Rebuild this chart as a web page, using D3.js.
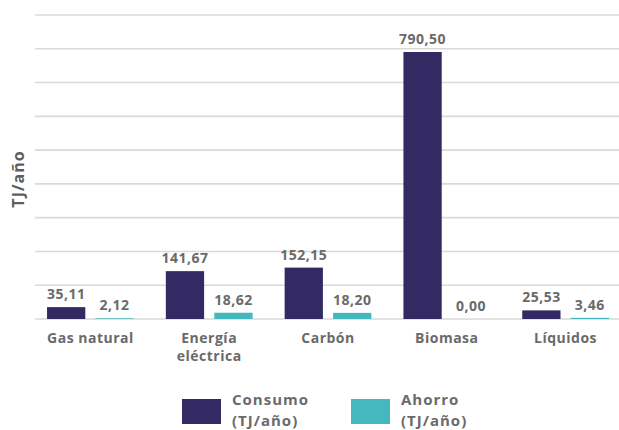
<!DOCTYPE html>
<html>
<head>
<meta charset="utf-8">
<script src="https://cdn.jsdelivr.net/npm/d3@7/dist/d3.min.js"></script>
<style>
  html, body { margin: 0; padding: 0; background: #ffffff; }
  svg { display: block; font-family: "Open Sans", "DejaVu Sans", sans-serif; }
</style>
</head>
<body>
<svg id="chart" width="619" height="430"></svg>
<script>
// Energy use and savings by source (TJ/año)
const categories = ["Gas natural", "Energía eléctrica", "Carbón", "Biomasa", "Líquidos"];
const categoryLines = [["Gas natural"], ["Energía", "eléctrica"], ["Carbón"], ["Biomasa"], ["Líquidos"]];
const seriesNames = ["Consumo (TJ/año)", "Ahorro (TJ/año)"];
const consumo = [35.11, 141.67, 152.15, 790.50, 25.53];
const ahorro = [2.12, 18.62, 18.20, 0.00, 3.46];
const yTicks = [0, 100, 200, 300, 400, 500, 600, 700, 800, 900];
const colors = ["#332a63", "#44b8bc"];

const svg = d3.select("#chart");
const textColor = "#6a6a6a";
const fmt = v => d3.format(".2f")(v).replace(".", ",");

const x0 = d3.scaleBand().domain(categories).range([31, 625])
  .paddingInner(0.27).paddingOuter(0.135);
const x1 = d3.scaleBand().domain(seriesNames).range([0, x0.bandwidth()])
  .paddingInner(0.21).paddingOuter(0);
const y = d3.scaleLinear().domain([0, 900]).range([319, 15]);

// horizontal gridlines
svg.append("g").selectAll("line").data(yTicks).join("line")
  .attr("x1", 35).attr("x2", 619)
  .attr("y1", d => y(d)).attr("y2", d => y(d))
  .attr("stroke", "#d9d9d9").attr("stroke-width", 1.6);

const rows = categories.map((c, i) => ({
  cat: c,
  values: [
    { s: seriesNames[0], v: consumo[i], k: 0 },
    { s: seriesNames[1], v: ahorro[i], k: 1 }
  ]
}));

const groups = svg.append("g").selectAll("g").data(rows).join("g")
  .attr("transform", d => `translate(${x0(d.cat)},0)`);

groups.selectAll("rect").data(d => d.values).join("rect")
  .attr("x", d => x1(d.s))
  .attr("width", x1.bandwidth())
  .attr("y", d => y(d.v))
  .attr("height", d => Math.max(0, y(0) - y(d.v)))
  .attr("fill", d => colors[d.k]);

// value labels above bars
groups.selectAll("text").data(d => d.values).join("text")
  .attr("x", d => x1(d.s) + x1.bandwidth() / 2)
  .attr("y", d => y(d.v) - 8)
  .attr("text-anchor", "middle")
  .attr("font-size", 14).attr("font-weight", 700)
  .attr("letter-spacing", 0.5)
  .attr("fill", textColor)
  .text(d => fmt(d.v));

// category labels
const catLabels = svg.append("g").selectAll("text").data(categories).join("text")
  .attr("x", d => x0(d) + x0.bandwidth() / 2)
  .attr("y", 343)
  .attr("text-anchor", "middle")
  .attr("font-size", 14).attr("font-weight", 700)
  .attr("letter-spacing", 0.5)
  .attr("fill", textColor);
catLabels.selectAll("tspan").data((d, i) => categoryLines[i]).join("tspan")
  .attr("x", function() { return d3.select(this.parentNode).attr("x"); })
  .attr("dy", (d, i) => i === 0 ? 0 : 18)
  .text(d => d);

// y axis title
svg.append("text")
  .attr("transform", "translate(24,179) rotate(-90)")
  .attr("text-anchor", "middle")
  .attr("font-size", 16).attr("font-weight", 700)
  .attr("letter-spacing", 1)
  .attr("fill", "#5e5e5e")
  .text("TJ/año");

// legend: swatch plus a two-line label per series
const legendX = [182, 351];
const legend = svg.append("g").selectAll("g").data(seriesNames).join("g")
  .attr("transform", (d, i) => `translate(${legendX[i]},0)`);
legend.append("rect")
  .attr("x", 0).attr("y", 399).attr("width", 39).attr("height", 25)
  .attr("fill", (d, i) => colors[i]);
legend.selectAll("text").data(d => d.split(" ")).join("text")
  .attr("x", 50)
  .attr("y", (d, i) => 405 + i * 20.5)
  .attr("font-size", 15).attr("font-weight", 700)
  .attr("letter-spacing", 1)
  .attr("fill", textColor)
  .text(d => d);
</script>
</body>
</html>
